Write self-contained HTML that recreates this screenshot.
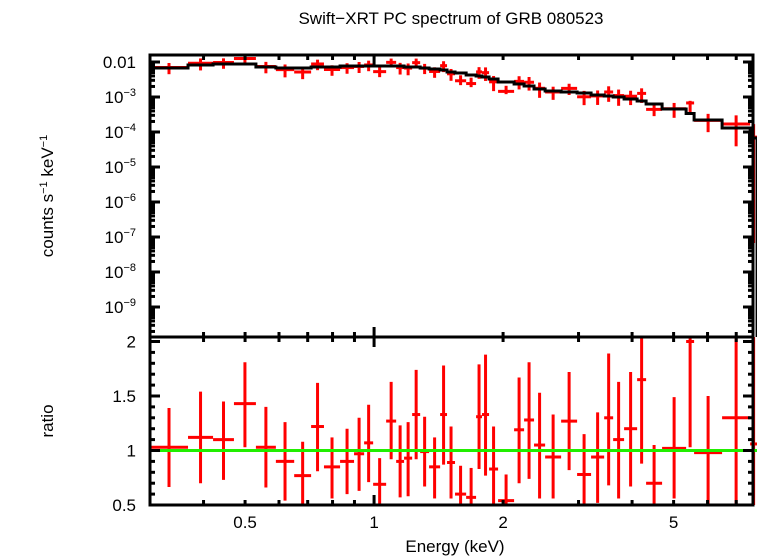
<!DOCTYPE html>
<html><head><meta charset="utf-8"><style>
html,body{margin:0;padding:0;background:#fff;}
svg{display:block;font-family:"Liberation Sans",sans-serif;}
</style></head><body>
<svg id="chart" width="758" height="556" xmlns="http://www.w3.org/2000/svg">
<text x="451" y="24" text-anchor="middle" font-size="17">Swift−XRT PC spectrum of GRB 080523</text>
<text transform="translate(53,196) rotate(-90)" text-anchor="middle" font-size="17">counts s<tspan dy="-6" font-size="11">−1</tspan><tspan dy="6"> keV</tspan><tspan dy="-6" font-size="11">−1</tspan></text>
<text transform="translate(53,421) rotate(-90)" text-anchor="middle" font-size="17">ratio</text>
<text x="455" y="552" text-anchor="middle" font-size="17">Energy (keV)</text>
<g id="gTop"></g>
<g id="gBot"></g>
</svg>
<script>
const binEdges=[0.30,0.368,0.421,0.471,0.530,0.590,0.651,0.713,0.764,0.833,0.898,0.948,0.995,1.067,1.126,1.175,1.227,1.281,1.344,1.426,1.480,1.545,1.640,1.730,1.786,1.855,1.947,2.122,2.239,2.362,2.507,2.732,2.977,3.209,3.443,3.613,3.832,4.110,4.313,4.700,5.348,5.582,6.488,7.543,7.83];
const ratio=[1.03,1.12,1.10,1.43,1.03,0.90,0.77,1.22,0.85,0.90,0.97,1.07,0.69,1.27,0.90,0.93,1.33,0.99,0.85,1.33,0.89,0.60,0.57,1.31,1.33,0.83,0.54,1.19,1.28,1.05,0.94,1.27,0.78,0.94,1.30,1.10,1.20,1.65,0.70,1.02,2.0,0.98,1.30,1.06];
const ratioLo=[0.665,0.70,0.73,1.03,0.66,0.54,0.48,0.81,0.56,0.60,0.63,0.71,0.48,0.92,0.57,0.58,0.92,0.67,0.56,0.87,0.56,0.45,0.45,0.83,0.77,0.45,0.45,0.70,0.74,0.56,0.56,0.82,0.45,0.52,0.68,0.56,0.67,0.88,0.45,0.56,1.03,0.45,0.3,0.001];
const ratioHi=[1.39,1.54,1.45,1.81,1.40,1.26,1.08,1.62,1.12,1.20,1.30,1.42,0.93,1.63,1.23,1.26,1.74,1.31,1.12,1.78,1.22,0.86,0.84,1.79,1.88,1.22,0.78,1.67,1.81,1.53,1.33,1.72,1.15,1.35,1.89,1.63,1.72,2.3,1.05,1.49,2.3,1.50,2.3,2.5];
const model=[0.00674,0.00821,0.00877,0.00877,0.00720,0.00674,0.00674,0.00720,0.00720,0.00769,0.00769,0.00769,0.00769,0.00769,0.00769,0.00720,0.00720,0.00674,0.00631,0.00591,0.00518,0.00485,0.00425,0.00398,0.00373,0.00327,0.00268,0.00235,0.00206,0.00169,0.00148,0.00139,0.00130,0.00114,0.00107,0.00100,0.000877,0.000769,0.000631,0.000454,0.000338,0.000220,0.000130,0.0000674];
const xTickLabels=["0.5","1","2","5"];
const xTickVals=[0.5,1,2,5];
const ratioTicks=[0.5,1,1.5,2];
const ratioTickLabels=["0.5","1","1.5","2"];
const topExps=[-2,-3,-4,-5,-6,-7,-8,-9];

const L=150,R=753,T1=55,B1=337,T2=337,B2=505;
const X0=Math.log10(0.3),X1=Math.log10(7.66);
const xs=e=>L+(Math.log10(e)-X0)/(X1-X0)*(R-L);
const ytop=v=>62-(Math.log10(v)+2)*35;
const yrat=r=>505-(r-0.5)*109;
const NS="http://www.w3.org/2000/svg";
function el(p,tag,a,txt){const e=document.createElementNS(NS,tag);for(const k in a)e.setAttribute(k,a[k]);if(txt!=null)e.textContent=txt;p.appendChild(e);return e;}
const svg=document.getElementById('chart');
const gT=document.getElementById('gTop'),gB=document.getElementById('gBot');
const cl=el(svg,'defs',{});
const c1=el(cl,'clipPath',{id:'c1'});el(c1,'rect',{x:L,y:T1,width:R-L+4,height:B1-T1});
const c2=el(cl,'clipPath',{id:'c2'});el(c2,'rect',{x:L,y:T2,width:R-L+4,height:B2-T2});
const dT=el(gT,'g',{'clip-path':'url(#c1)'}),dB=el(gB,'g',{'clip-path':'url(#c2)'});
const RED='#ff0000';
// model step
let d='';
for(let i=0;i<model.length;i++){const y=ytop(model[i]);d+=(i?'L':'M')+xs(binEdges[i])+','+y+'L'+xs(binEdges[i+1])+','+y;}
d+='L'+xs(binEdges[binEdges.length-1])+','+(B1+5);
// data
for(let i=0;i<ratio.length;i++){
 const xa=xs(binEdges[i]),xb=xs(binEdges[i+1]),xc=xs(Math.sqrt(binEdges[i]*binEdges[i+1]));
 const m=model[i];
 const g=el(dT,'g',{stroke:RED,'stroke-width':3});
 
 
 el(g,'line',{x1:xa,x2:xb,y1:ytop(m*ratio[i]),y2:ytop(m*ratio[i])});
 el(g,'line',{x1:xc,x2:xc,y1:ytop(m*ratioLo[i]),y2:ytop(m*ratioHi[i])});
 const h=el(dB,'g',{stroke:RED,'stroke-width':3});
 
 
 el(h,'line',{x1:xa,x2:xb,y1:yrat(ratio[i]),y2:yrat(ratio[i])});
 el(h,'line',{x1:xc,x2:xc,y1:yrat(ratioLo[i]),y2:yrat(ratioHi[i])});
}
const mp=el(dT,'path',{d:d,fill:'none',stroke:'#000','stroke-width':3});


const gl=el(dB,'line',{x1:L,x2:R+4,y1:yrat(1),y2:yrat(1),stroke:'#22ee00','stroke-width':3});


// axes frames
const A=el(svg,'g',{stroke:'#000','stroke-width':3,fill:'none'});


el(A,'rect',{x:L,y:T1,width:R-L,height:B1-T1});
el(A,'rect',{x:L,y:T2,width:R-L,height:B2-T2});
// x ticks
for(const dec of [0.1,1]){for(let k=1;k<10;k++){const e=dec*k;if(e<0.3||e>7.66)continue;const x=xs(e);const len=(k===1)?10:5;
 for(const [t,b] of [[T1,B1],[T2,B2]]){el(A,'line',{x1:x,x2:x,y1:t,y2:t+len});el(A,'line',{x1:x,x2:x,y1:b,y2:b-len});}}}
xTickVals.forEach((v,i)=>{const t=el(svg,'text',{x:xs(v),y:528,'text-anchor':'middle','font-size':17},xTickLabels[i]);
 });
// top y ticks
for(let e=-10;e<=-2;e++){for(let k=1;k<10;k++){const v=k*Math.pow(10,e);const y=ytop(v);if(y<T1||y>B1)continue;const len=k===1?10:5;
 el(A,'line',{x1:L,x2:L+len,y1:y,y2:y});el(A,'line',{x1:R,x2:R-len,y1:y,y2:y});}}
topExps.forEach(e=>{const y=ytop(Math.pow(10,e))+6;let t;
 if(e===-2)t=el(svg,'text',{x:136,y:y,'text-anchor':'end','font-size':17},'0.01');
 else{t=el(svg,'text',{x:136,y:y,'text-anchor':'end','font-size':17});el(t,'tspan',{},'10');el(t,'tspan',{dy:-7,'font-size':11},'−'+(-e));}
 });
// ratio ticks
for(let r=0.5;r<=2.041;r+=0.1){const y=yrat(r);const maj=Math.abs(r*2-Math.round(r*2))<1e-6;const len=maj?10:5;
 el(A,'line',{x1:L,x2:L+len,y1:y,y2:y});el(A,'line',{x1:R,x2:R-len,y1:y,y2:y});}
ratioTicks.forEach((v,i)=>{const t=el(svg,'text',{x:136,y:yrat(v)+6,'text-anchor':'end','font-size':17},ratioTickLabels[i]);
 });
</script>
</body></html>
